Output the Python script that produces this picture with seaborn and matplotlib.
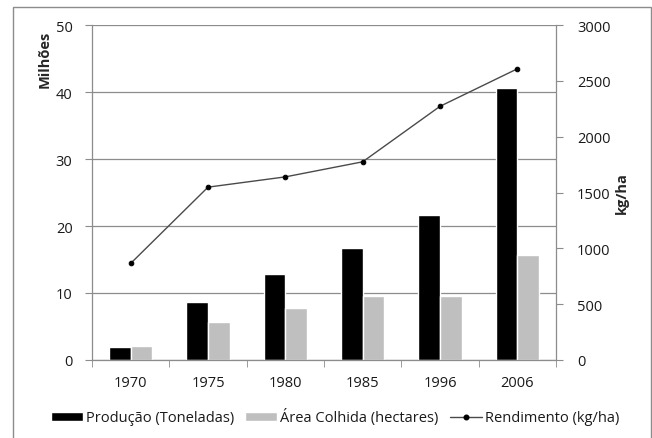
import numpy as np
import pandas as pd
import matplotlib
matplotlib.use("Agg")
import matplotlib.pyplot as plt
import seaborn as sns
from matplotlib.patches import Rectangle, Patch
from matplotlib.lines import Line2D

sns.set_style("white")
plt.rcParams["font.family"] = ["Open Sans", "DejaVu Sans"]

# data
anos = ["1970", "1975", "1980", "1985", "1996", "2006"]
producao = [1.9, 8.7, 12.8, 16.7, 21.6, 40.6]      # milhões de toneladas
area = [2.1, 5.6, 7.8, 9.5, 9.5, 15.6]              # milhões de hectares
rendimento = [865, 1548, 1640, 1775, 2272, 2608]    # kg/ha

serie_prod = "Produção (Toneladas)"
serie_area = "Área Colhida (hectares)"
serie_rend = "Rendimento (kg/ha)"

df = pd.DataFrame({
    "ano": anos * 2,
    "valor": producao + area,
    "serie": [serie_prod] * len(anos) + [serie_area] * len(anos),
})
df_rend = pd.DataFrame({"ano": anos, "rend": rendimento})

cinza = "#8c8c8c"
texto = "#1a1a1a"
fig = plt.figure(figsize=(6.52, 4.39), dpi=100)
ax = fig.add_axes([0.1411, 0.1777, 0.7117, 0.763])

ax.yaxis.grid(True, color=cinza, linewidth=0.9)
ax.set_axisbelow(True)
sns.barplot(data=df, x="ano", y="valor", hue="serie", order=anos,
            palette=["#000000", "#bfbfbf"], width=0.56, saturation=1,
            ax=ax, legend=False)
ax.set_ylim(0, 50)
ax.set_yticks(range(0, 51, 10))
ax.set_xlim(-0.5, len(anos) - 0.5)
ax.set_xlabel("")
ax.set_ylabel("Milhões", fontsize=10.5, fontweight="bold")
ax.yaxis.set_label_coords(-0.086, 0.90)

ax2 = ax.twinx()
sns.pointplot(data=df_rend, x="ano", y="rend", order=anos, color="#4a4a4a",
              markers="o", markersize=3.3, linewidth=1.0, ax=ax2)
for ln in ax2.lines:
    ln.set_markerfacecolor("black")
    ln.set_markeredgecolor("black")
ax2.set_ylim(0, 3000)
ax2.set_yticks(range(0, 3001, 500))
ax2.set_xlim(-0.5, len(anos) - 0.5)
ax2.set_xlabel("")
ax2.set_ylabel("kg/ha", fontsize=10.5, fontweight="bold")
ax2.yaxis.set_label_coords(1.127, 0.5)

for a in (ax, ax2):
    for s in a.spines.values():
        s.set_visible(False)
ax.spines["left"].set_visible(True)
ax.spines["bottom"].set_visible(True)
ax2.spines["right"].set_visible(True)
for s in (ax.spines["left"], ax.spines["bottom"], ax2.spines["right"]):
    s.set_color(cinza)
    s.set_linewidth(0.9)

ax.tick_params(axis="y", left=True, length=5, color=cinza, labelsize=10.5,
               labelcolor=texto, pad=9)
ax2.tick_params(axis="y", right=True, length=5, color=cinza, labelsize=10.5,
                labelcolor=texto, pad=10)
ax.tick_params(axis="x", which="major", length=0, labelsize=10.5,
               labelcolor=texto, pad=11)
ax.set_xticks(np.arange(len(anos) + 1) - 0.5, minor=True)
ax.tick_params(axis="x", which="minor", bottom=True, length=5, color=cinza)

handles = [
    Patch(facecolor="#000000", label=serie_prod),
    Patch(facecolor="#bfbfbf", label=serie_area),
    Line2D([], [], color="#4a4a4a", linewidth=1.0, marker="o", markersize=3.3,
           markerfacecolor="black", markeredgecolor="black", label=serie_rend),
]
fig.legend(handles=handles, loc="center", bbox_to_anchor=(0.514, 0.048), ncol=3,
           frameon=False, fontsize=10.5, handlelength=2.2, handleheight=0.55,
           handletextpad=0.2, columnspacing=0.75, labelcolor=texto)

fig.add_artist(Rectangle((13 / 652, -0.01), 637.5 / 652, 1 - 8 / 439 + 0.01,
                         transform=fig.transFigure, fill=False,
                         edgecolor="#8c8c8c", linewidth=1.0))

fig.savefig("out.png", dpi=100)
